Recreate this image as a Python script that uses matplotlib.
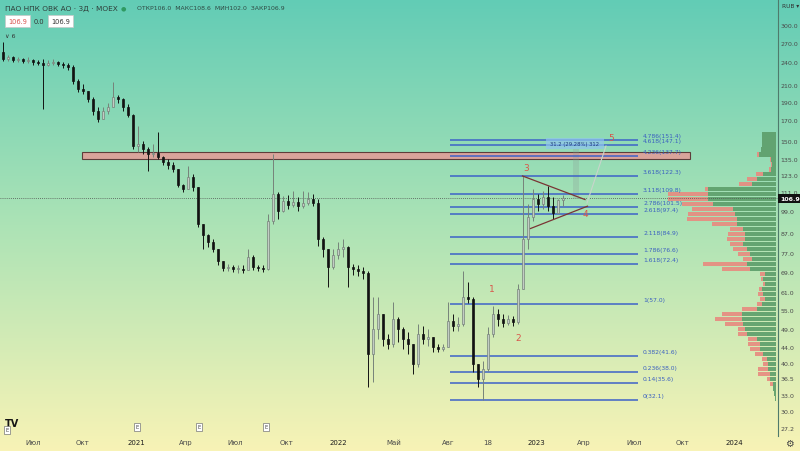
import numpy as np
import matplotlib
matplotlib.use("Agg")
import matplotlib.pyplot as plt
from matplotlib.patches import Rectangle
from matplotlib.ticker import NullLocator
from matplotlib.transforms import blended_transform_factory

plt.rcParams['font.family'] = ['DejaVu Sans']

# ---------------- data ----------------
open0 = 255.4
close = [245.0, 247.9, 243.5, 245.0, 242.0, 243.5, 240.6, 239.2, 236.4, 239.2,
         240.6, 237.8, 236.4, 233.6, 214.9, 204.9, 202.4, 193.0, 179.7, 171.3,
         179.7, 184.0, 195.4, 193.0, 184.0, 175.5, 145.9, 147.6, 143.3, 139.1,
         139.9, 136.6, 132.6, 130.3, 127.2, 115.6, 112.9, 121.3, 114.2, 91.6,
         85.8, 82.3, 79.0, 73.5, 70.5, 70.9, 70.1, 70.1, 69.7, 75.3,
         70.9, 70.5, 70.1, 93.3, 109.6, 99.0, 105.1, 102.6, 104.5, 102.0,
         103.9, 106.4, 103.9, 83.8, 79.0, 70.9, 76.2, 79.0, 79.9, 70.9,
         70.1, 69.3, 68.5, 42.2, 49.0, 53.6, 46.2, 44.8, 52.0, 49.0,
         46.2, 44.8, 39.8, 47.6, 46.2, 46.7, 44.0, 43.5, 44.0, 51.4,
         49.9, 50.5, 59.3, 58.6, 39.8, 36.4, 38.6, 47.6, 53.6, 52.0,
         50.8, 52.0, 51.1, 62.2, 83.8, 95.6, 106.4, 103.2, 107.6, 102.0,
         97.9, 106.0, 106.9]
high = [271.1, 250.9, 249.4, 247.9, 246.4, 247.9, 245.0, 243.5, 245.0, 243.5,
        245.0, 242.0, 240.6, 239.2, 236.4, 217.5, 211.1, 202.4, 195.4, 184.0,
        184.0, 188.5, 213.6, 197.7, 194.2, 187.4, 176.5, 164.3, 150.3, 145.0,
        147.6, 158.6, 137.4, 135.0, 132.6, 127.2, 116.3, 129.5, 123.5, 114.2,
        91.6, 86.3, 83.8, 79.0, 73.5, 72.2, 71.8, 71.8, 71.8, 79.0,
        76.2, 71.8, 71.8, 97.3, 139.1, 110.9, 108.3, 108.9, 111.6, 107.6,
        111.6, 110.9, 109.6, 106.4, 84.8, 79.0, 79.0, 82.3, 83.8, 80.5,
        72.2, 71.8, 70.9, 69.3, 59.3, 59.3, 53.6, 47.6, 57.6, 52.7,
        49.6, 48.2, 44.8, 50.5, 49.9, 49.0, 46.7, 44.8, 44.8, 57.6,
        53.6, 52.7, 69.3, 64.9, 59.3, 39.8, 40.5, 49.6, 56.2, 55.2,
        53.6, 53.3, 53.0, 64.1, 122.0, 103.2, 112.9, 109.6, 111.6, 114.9,
        107.6, 106.4, 108.6]
low = [242.0, 242.0, 240.6, 240.6, 239.2, 239.2, 236.4, 236.4, 181.9, 235.0,
       236.4, 235.0, 232.2, 229.4, 211.1, 201.2, 198.9, 189.6, 175.5, 168.3,
       171.3, 176.5, 184.0, 188.5, 179.7, 173.4, 143.3, 140.7, 139.1, 125.7,
       136.6, 135.0, 130.3, 127.2, 124.9, 114.2, 110.9, 112.9, 111.6, 90.0,
       79.0, 79.9, 77.6, 71.8, 69.3, 69.3, 68.9, 68.5, 68.5, 69.7,
       69.7, 69.3, 68.9, 69.7, 91.6, 94.4, 98.5, 100.2, 101.4, 99.0,
       100.8, 102.6, 102.0, 80.4, 75.3, 62.9, 70.0, 74.4, 75.3, 62.9,
       67.7, 67.3, 66.0, 34.7, 35.8, 46.2, 44.3, 43.5, 44.0, 45.4,
       43.5, 42.2, 37.5, 39.0, 44.8, 44.3, 42.7, 42.7, 43.0, 44.0,
       48.5, 48.5, 50.0, 57.3, 37.9, 34.7, 32.1, 38.2, 46.7, 49.9,
       49.6, 50.2, 49.9, 50.5, 62.2, 79.0, 93.3, 99.0, 100.2, 99.0,
       94.4, 97.9, 102.0]

price_ticks = [27.2, 30.0, 33.0, 36.5, 40.0, 44.0, 49.0, 55.0, 61.0, 69.0, 77.0,
               87.0, 99.0, 111.0, 123.0, 135.0, 150.0, 170.0, 190.0, 210.0,
               240.0, 270.0, 300.0]
time_pos = [6.0, 16.0, 26.6, 36.6, 46.4, 56.8, 67.0, 78.2, 89.0, 97.0, 106.6,
            116.2, 126.2, 136.0, 146.2]
time_labels = ["Июл", "Окт", "2021", "Апр", "Июл", "Окт", "2022", "Май", "Авг",
               "18", "2023", "Апр", "Июл", "Окт", "2024"]

fib_ratios = [0, 0.14, 0.236, 0.382, 1, 1.618, 1.786, 2.118, 2.618, 2.786,
              3.118, 3.618, 4.236, 4.618, 4.786]
fib_prices = [32.1, 35.6, 38.0, 41.6, 57.0, 72.4, 76.6, 84.9, 97.4, 101.5,
              109.8, 122.3, 137.7, 147.1, 151.4]

band_low, band_high = 135.0, 140.7
last_price = 106.9

# volume profile rows (top -> bottom), up (green) and down (red) volume
vp_up = [14, 14, 14, 15, 17, 5, 4, 5, 13, 19, 24, 68, 68, 68, 63, 43, 41, 39,
         39, 33, 31, 31, 33, 29, 26, 24, 29, 26, 11, 13, 11, 14, 13, 11, 14,
         19, 34, 34, 33, 31, 29, 19, 16, 16, 13, 9, 8, 8, 6, 6, 3, 3, 2, 1]
vp_down = [0, 0, 0, 0, 2, 1, 1, 2, 7, 10, 13, 3, 40, 40, 31, 41, 47, 50, 25,
           13, 17, 18, 13, 14, 12, 9, 44, 28, 5, 2, 2, 3, 5, 5, 5,
           15, 20, 27, 18, 7, 9, 9, 12, 10, 8, 5, 5, 10, 12, 3, 3, 0, 0, 0]
vp_top, vp_bottom = 158.5, 31.9

wave_labels = ["1", "2", "3", "4", "5"]
wave_x = [97.8, 103.0, 104.6, 116.4, 121.6]
wave_y = [62.5, 46.5, 128.0, 97.5, 153.0]

# ---------------- figure ----------------
W, H = 800, 452
fig = plt.figure(figsize=(8, 4.52), dpi=100)

def fx(px):
    return px / W

def fy(py):
    return 1 - py / H

bg = fig.add_axes([0, 0, 1, 1])
bg.set_axis_off()
stops = np.array([[98, 204, 182], [172, 227, 181], [248, 243, 182]]) / 255.0
t = np.linspace(0, 1, H)
grad = np.empty((H, 1, 3))
for c in range(3):
    grad[:, 0, c] = np.interp(t, [0, 0.5, 1], stops[:, c])
bg.imshow(grad, aspect='auto', extent=[0, 1, 0, 1])
bg.set_xlim(0, 1)
bg.set_ylim(0, 1)
bg.set_zorder(0)

pos = [0, 15 / H, 778 / W, 437 / H]
ylo, yhi = 25.9, 350.3

# volume profile axes
axv = fig.add_axes(pos)
axv.set_zorder(1)
axv.patch.set_alpha(0)
axv.set_yscale('log')
axv.set_ylim(ylo, yhi)
axv.set_xlim(776, -2)
axv.set_axis_off()
edges = np.geomspace(vp_top, vp_bottom, len(vp_up) + 1)
g = 0.08
for i in range(len(vp_up)):
    top, bot = edges[i], edges[i + 1]
    r = (top / bot) ** g
    b2, t2 = bot * r, top / r
    axv.add_patch(Rectangle((0, b2), vp_up[i], t2 - b2, fc='#5e9f6b', ec='none', alpha=0.92))
    if vp_down[i] > 0:
        axv.add_patch(Rectangle((vp_up[i], b2), vp_down[i], t2 - b2, fc='#e78c80', ec='none', alpha=0.92))

# main axes
ax = fig.add_axes(pos)
ax.set_zorder(2)
ax.patch.set_alpha(0)
ax.set_yscale('log')
ax.set_ylim(ylo, yhi)
ax.set_xlim(-0.6, 155.0)
ax.yaxis.tick_right()
ax.set_yticks(price_ticks)
ax.set_yticklabels([f"{v:.1f}" for v in price_ticks])
ax.yaxis.set_minor_locator(NullLocator())
ax.tick_params(axis='y', length=0, pad=2, labelsize=4.5, labelcolor='#4a4a4a')
ax.set_xticks(time_pos)
ax.set_xticklabels(time_labels)
ax.tick_params(axis='x', length=0, pad=2.5, labelsize=5, labelcolor='#4a4a4a')
for lbl in ax.get_xticklabels():
    if lbl.get_text().isdigit() and len(lbl.get_text()) == 4:
        lbl.set_color('#1e1e1e')
for s in ['top', 'left', 'bottom']:
    ax.spines[s].set_visible(False)
ax.spines['right'].set_color('#4f7a6c')
ax.spines['right'].set_linewidth(0.8)

# resistance band
ax.add_patch(Rectangle((15.8, band_low), 137.4 - 15.8, band_high - band_low,
                       fc='#d9a49b', ec='#5e3d3a', lw=0.8, zorder=3))

# current price line
ax.axhline(last_price, color='#505050', lw=0.6, ls=(0, (1, 1.5)), zorder=3)

# fib levels
ax.hlines(fib_prices, 89.4, 127.0, color='#3d62c8', lw=1.1, zorder=4)
for r, p in zip(fib_ratios, fib_prices):
    ax.text(128.0, p * 1.012, f"{r:g}({p:.1f})", fontsize=4.3, color='#3a5fc0',
            va='bottom', ha='left', zorder=4)

# measurement box
ax.add_patch(Rectangle((114.0, last_price), 1.2, 143.3 - last_price,
                       fc='#8a9a95', ec='none', alpha=0.25, zorder=3))
ax.add_patch(Rectangle((108.6, 143.3), 120.2 - 108.6, 153.0 - 143.3,
                       fc='#90c4ee', ec='none', alpha=0.7, zorder=4))
ax.text(114.4, 148.0, "31.2 (29.28%) 312", fontsize=3.8, color='#1d3a7a',
        ha='center', va='center', zorder=5)

# candles
opens = [open0] + close[:-1]
for i, (o, h, l, c) in enumerate(zip(opens, high, low, close)):
    up = c >= o
    col = '#76827a' if up else '#121212'
    ax.vlines(i, l, h, color=col, lw=0.7, zorder=6)
    bot = min(o, c)
    ht = max(abs(c - o), bot * 0.006)
    ax.add_patch(Rectangle((i - 0.24, bot), 0.48, ht,
                           fc=('#c2ccc4' if up else '#121212'), ec=col, lw=0.5, zorder=7))

# triangle pattern and projection
ax.plot([103.9, 116.4], [122.0, 106.0], color='#7a3434', lw=0.9, zorder=8)
ax.plot([105.5, 116.9], [89.2, 101.9], color='#7a3434', lw=0.9, zorder=8)
ax.plot([116.8, 120.6], [103.9, 145.9], color='#c8d4cc', lw=0.8, zorder=8)
for s, x, y in zip(wave_labels, wave_x, wave_y):
    ax.text(x, y, s, fontsize=6.5, color='#d8564a', ha='center', va='center', zorder=9)

# last price label on price scale
tr = blended_transform_factory(ax.transAxes, ax.transData)
ax.text(1.003, last_price, "106.9", transform=tr, fontsize=4.5, color='white',
        fontweight='bold', ha='left', va='center', zorder=10, clip_on=False,
        bbox=dict(boxstyle='square,pad=0.3', fc='#111111', ec='none'))

# header texts
fig.text(fx(5), fy(9), "ПАО НПК ОВК АО · 3Д · MOEX", fontsize=5.3, color='#2e3e3a', va='center')
fig.text(fx(123), fy(9), "●", fontsize=4.5, color='#2f9a62', va='center', ha='center')
fig.text(fx(137), fy(9), "ОТКР106.0  МАКС108.6  МИН102.0  ЗАКР106.9", fontsize=4.4,
         color='#2e4a44', va='center')
fig.text(fx(8), fy(22), "106.9", fontsize=4.8, color='#d9534f', va='center',
         bbox=dict(boxstyle='square,pad=0.4', fc='white', ec='#c8c8c8', lw=0.5))
fig.text(fx(34), fy(22), "0.0", fontsize=4.8, color='#333333', va='center')
fig.text(fx(51), fy(22), "106.9", fontsize=4.8, color='#333333', va='center',
         bbox=dict(boxstyle='square,pad=0.4', fc='white', ec='#c8c8c8', lw=0.5))
fig.text(fx(5), fy(37), "∨ 6", fontsize=4.5, color='#333333', va='center')
fig.text(fx(782), fy(7), "RUB ▾", fontsize=4.2, color='#333333', va='center')
fig.text(fx(789), fy(444), "⚙", fontsize=7, color='#444444', va='center', ha='center')

# bottom-left logo and event markers
fig.text(fx(5), fy(424), "TV", fontsize=7, color='#151515', fontweight='bold', va='center')
for xe, ye in [(7, 431), (137, 428), (199, 428), (266, 428)]:
    fig.text(fx(xe), fy(ye), "E", fontsize=3.8, color='#444444', va='center', ha='center',
             bbox=dict(boxstyle='square,pad=0.3', fc='white', ec='#777777', lw=0.5))

fig.savefig("out.png", dpi=100)
